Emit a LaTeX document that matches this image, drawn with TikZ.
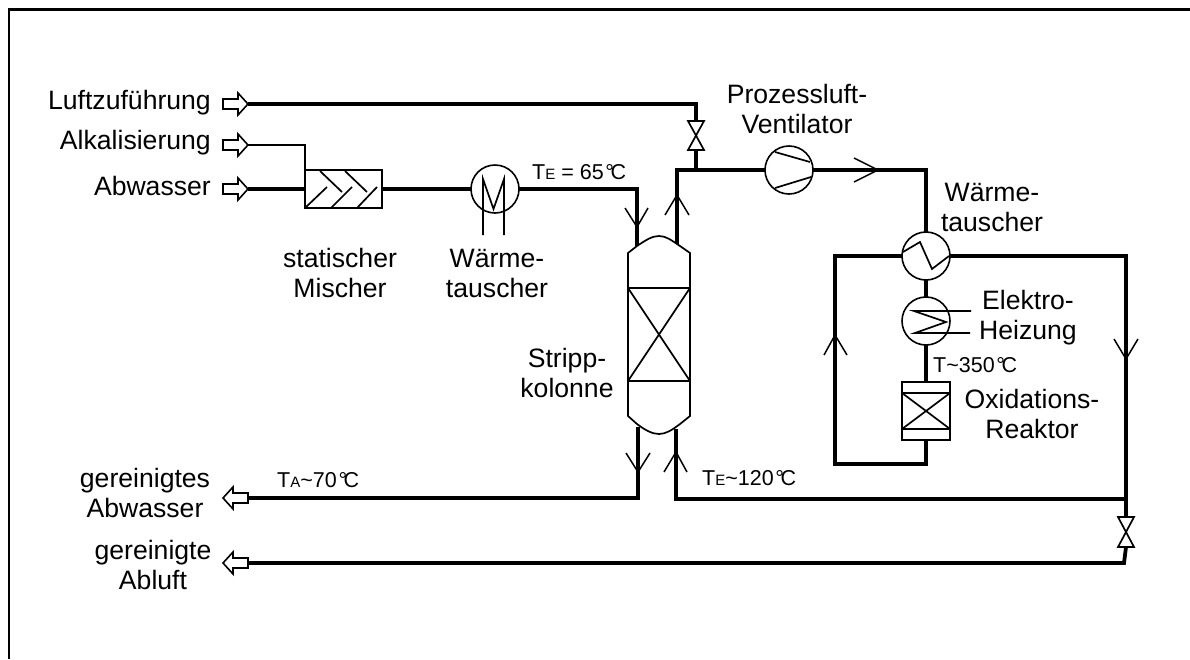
\documentclass[tikz,border=0pt]{standalone}
\usepackage{fontspec}
\setmainfont{Liberation Sans}
\newcommand{\dgc}{\kern0.08em °\kern-0.16em C}
\tikzset{
  thickpipe/.style={line width=3.8pt,line join=miter,line cap=butt},
  thinline/.style={line width=1.7pt},
  unitcircle/.style={circle,draw,line width=1.6pt,minimum size=48pt,inner sep=0pt,outer sep=0pt,fill=white},
  boxunit/.style={draw,line width=1.6pt,inner sep=0pt,outer sep=0pt},
  port/.style={draw,line width=1.6pt,fill=white,line join=miter},
  flowtip/.style={line width=1.5pt},
  lab/.style={inner sep=0pt,align=center,font=\fontsize{26.6}{30}\selectfont},
  smalllab/.style={inner sep=0pt,font=\fontsize{21.5}{24}\selectfont},
}
\newcommand{\sub}[1]{{\fontsize{15}{16}\selectfont #1}}
\begin{document}
\begin{tikzpicture}[x=1pt,y=-1pt]
\useasboundingbox (0,0) rectangle (1190,659);
\draw[line width=2.2pt] (9,659) -- (9,9.5) -- (1190,9.5);

% named points
\coordinate (airin) at (248,104);
\coordinate (aircorner) at (696,104);
\coordinate (v1top) at (696,121);
\coordinate (v1bot) at (696,150);
\coordinate (v1join) at (696,170);
\coordinate (alkin) at (248,145);
\coordinate (alkcorner) at (305,145);
\coordinate (wasserin) at (248,189);
\coordinate (colinL) at (637,189);
\coordinate (colinLb) at (637,246);
\coordinate (coloutR) at (677,170);
\coordinate (coloutRb) at (677,246);
\coordinate (fanright) at (926,170);
\coordinate (hxleftc) at (835,256);
\coordinate (hxrightc) at (1126,256);
\coordinate (reacbotc) at (926,464);
\coordinate (leftbot) at (835,464);
\coordinate (rjoin) at (1126,499);
\coordinate (v2top) at (1126,517);
\coordinate (v2bot) at (1126,547);
\coordinate (rbot) at (1124,563);
\coordinate (abluftout) at (248,563);
\coordinate (wasserout) at (248,498);
\coordinate (colbL) at (638,498);
\coordinate (colbLt) at (638,427);
\coordinate (colbR) at (676,499);
\coordinate (colbRt) at (676,429);

% units
\node[boxunit,minimum width=77pt,minimum height=38pt] (mixer) at (343.5,189) {};
\node[unitcircle] (hx1) at (495,189) {};
\node[unitcircle] (fan) at (789,170) {};
\node[unitcircle] (hx2) at (926,256) {};
\node[unitcircle] (heater) at (926,321) {};
\node[boxunit,minimum width=48pt,minimum height=58pt] (reactor) at (926,411) {};

% pipes
\draw[thickpipe] (airin) -- (aircorner) -- (v1top);
\draw[thickpipe] (v1bot) -- (v1join);
\draw[thickpipe] (wasserin) -- (mixer.west);
\draw[thickpipe] (mixer.east) -- (hx1.west);
\draw[thickpipe] (hx1.east) -- (colinL) -- (colinLb);
\draw[thickpipe] (coloutRb) -- (coloutR) -- (fan.west);
\draw[thickpipe] (fan.east) -- (fanright) -- (hx2.north);
\draw[thickpipe] (hx2.south) -- (heater.north);
\draw[thickpipe] (heater.south) -- (reactor.north);
\draw[thickpipe] (hx2.west) -- (hxleftc) -- (leftbot) -- (reacbotc) -- (reactor.south);
\draw[thickpipe] (hx2.east) -- (hxrightc) -- (v2top);
\draw[thickpipe] (colbRt) -- (colbR) -- (rjoin);
\draw[thickpipe] (v2bot) -- (rbot) -- (abluftout);
\draw[thickpipe] (colbLt) -- (colbL) -- (wasserout);
\draw[thinline] (alkin) -- (alkcorner) -- (mixer.north west);

% ports
\draw[port] (248,104) -- (238,93) -- (238,99) -- (223,99) -- (223,109) -- (238,109) -- (238,115) -- cycle;
\draw[port] (248,145) -- (238,134) -- (238,140) -- (223,140) -- (223,150) -- (238,150) -- (238,156) -- cycle;
\draw[port] (248,189) -- (238,178) -- (238,184) -- (223,184) -- (223,194) -- (238,194) -- (238,200) -- cycle;
\draw[port] (223,498) -- (233,487) -- (233,493) -- (248,493) -- (248,503) -- (233,503) -- (233,509) -- cycle;
\draw[port] (223,563) -- (233,552) -- (233,558) -- (248,558) -- (248,568) -- (233,568) -- (233,574) -- cycle;

% mixer inside
\draw[thinline] (305,208) -- (327,187) (331,208) -- (352,187) (357,208) -- (377,187)
  (320,171) -- (342,192) (345,171) -- (367,192);

% hx1 inside
\draw[thinline] (483,235) -- (483,179) -- (493.5,209) -- (504,179) -- (504,235);
% fan inside
\draw[thinline] (775,152) -- (810,162) (775,188) -- (811,177);
% hx2 inside
\draw[thinline] (903,252) -- (920,242) -- (932,269) -- (949,256);
% heater inside
\draw[thinline] (971,311) -- (914,311) -- (946,322) -- (915,333) -- (970,333);
% reactor inside
\draw[thinline] (902,393) -- (950,393) (902,429) -- (950,429)
  (902,393) -- (950,429) (950,393) -- (902,429);

% valves
\draw[thinline,line join=miter] (688,121) -- (704,121) -- (688,150) -- (704,150) -- cycle;
\draw[thinline,line join=miter] (1118,517) -- (1134,517) -- (1118,547) -- (1134,547) -- cycle;

% column
\draw[thinline,fill=white] (628,253) -- (637,246) .. controls (646,240) and (652,236) .. (659,236)
  .. controls (666,236) and (671,240) .. (680,246) -- (690,253) -- (690,416) -- (680,424)
  .. controls (672,430) and (666,434) .. (659,434) .. controls (652,434) and (645,430) .. (637,424)
  -- (628,416) -- cycle;
\draw[thinline] (628,288) -- (690,288) (628,381) -- (690,381) (628,288) -- (690,381) (690,288) -- (628,381);

% flow tips
\draw[flowtip] (854,158) -- (878,170) -- (854,182);
\draw[flowtip] (625,208) -- (637,227) -- (648,208);
\draw[flowtip] (665,215) -- (677,195) -- (689,215);
\draw[flowtip] (824,355) -- (835,335) -- (847,355);
\draw[flowtip] (1114,339) -- (1126,359) -- (1138,339);
\draw[flowtip] (626,453) -- (638,472) -- (650,453);
\draw[flowtip] (664,472) -- (676,452) -- (687,472);

% labels
\node[lab,anchor=east] (l1) at (211,103) {Luftzuführung};
\node[lab,anchor=east] (l2) at (211,143) {Alkalisierung};
\node[lab,anchor=east] (l3) at (211,186) {Abwasser};
\node[lab] (l4) at (340,273) {statischer\\Mischer};
\node[lab] (l5) at (497,273) {Wärme-\\tauscher};
\node[lab] (l6) at (797,109) {Prozessluft-\\Ventilator};
\node[lab] (l7) at (992,207) {Wärme-\\tauscher};
\node[lab] (l8) at (1028,318) {Elektro-\\Heizung};
\node[lab] (l9) at (1032,414) {Oxidations-\\Reaktor};
\node[lab] (l10) at (567,373) {Stripp-\\kolonne};
\node[lab] (l11) at (145,493) {gereinigtes\\Abwasser};
\node[lab] (l12) at (153,565) {gereinigte\\Abluft};
\node[smalllab,anchor=west] (t1) at (532,172) {T\sub{E} = 65\dgc};
\node[smalllab,anchor=west] (t2) at (933,365) {T\textasciitilde350\dgc};
\node[smalllab,anchor=west] (t3) at (702,478) {T\sub{E}\textasciitilde120\dgc};
\node[smalllab,anchor=west] (t4) at (277,480) {T\sub{A}\textasciitilde70\dgc};
\end{tikzpicture}
\end{document}
